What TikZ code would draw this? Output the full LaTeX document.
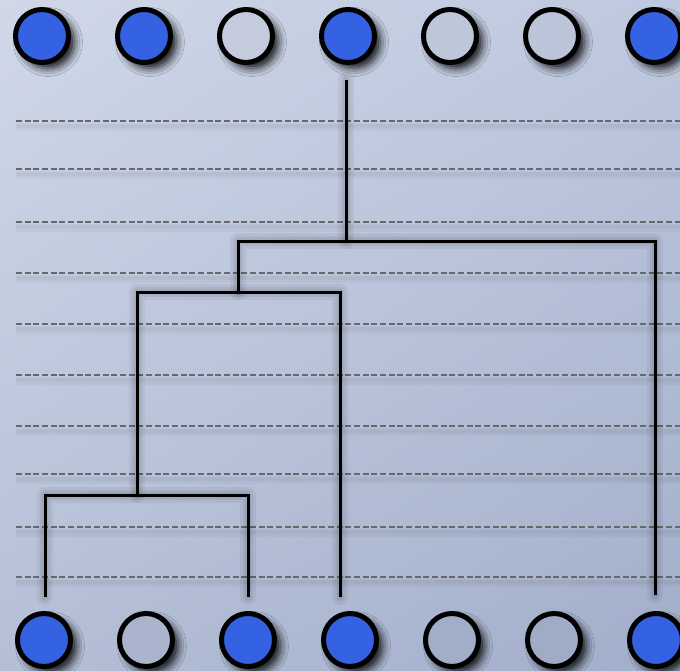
\documentclass[tikz,border=0pt]{standalone}
\usetikzlibrary{shadows.blur,shadings}
\definecolor{bgtl}{RGB}{208,216,232}
\definecolor{bgtr}{RGB}{190,200,222}
\definecolor{bgbl}{RGB}{180,191,214}
\definecolor{bgbr}{RGB}{162,174,202}
\definecolor{dotblue}{RGB}{53,98,226}
\definecolor{dashgray}{RGB}{104,104,108}
\tikzset{
  ball/.style={circle, draw=black, line width=3.75pt, minimum size=39.75pt, inner sep=0pt},
  shadowed/.style={blur shadow={shadow xshift=4.5pt, shadow yshift=-4.5pt, shadow blur radius=6pt, shadow opacity=90}},
  full/.style={ball, shadowed, fill=dotblue},
  hollow/.style={ball, fill=#1},
  hollowshadow/.style={circle, minimum size=39.75pt, inner sep=0pt, draw=none, shadowed, fill=none},
  level/.style={dashgray, line width=2.1pt, dash pattern=on 4.5pt off 2pt},
  levelshadow/.style={black, opacity=0.03, line width=6pt},
  tree/.style={black, line width=2.25pt},
  treeshadow/.style={black, opacity=0.05, line cap=round, line join=round},
}
\begin{document}
\begin{tikzpicture}[x=0.75pt,y=-0.75pt]
\useasboundingbox (0,0) rectangle (680,670);
\shade[upper left=bgtl, upper right=bgtr, lower left=bgbl, lower right=bgbr] (0,0) rectangle (680,670);

% level lines
\foreach \yy in {121,169,222,273,324,375,426,474,527,577} {
  \draw[levelshadow] (16,\yy+6) -- (680,\yy+6);
  \draw[levelshadow, line width=3pt] (16,\yy+5) -- (680,\yy+5);
}
\foreach \yy in {121,169,222,273,324,375,426,474,527,577} {
  \draw[level] (16,\yy) -- (680,\yy);
}

% tree coordinates
\coordinate (root) at (346,80);
\coordinate (rj) at (346,241);
\coordinate (ja) at (238,241);
\coordinate (jb) at (655,241);
\coordinate (la) at (655,595);
\coordinate (ka) at (238,292);
\coordinate (kl) at (137,292);
\coordinate (kr) at (340,292);
\coordinate (lb) at (340,597);
\coordinate (ma) at (137,495);
\coordinate (ml) at (45,495);
\coordinate (mr) at (248,495);
\coordinate (lc) at (45,597);
\coordinate (ld) at (248,597);

% tree shadows
\foreach \w in {12,8,5} {
  \begin{scope}[xshift=4.5pt, yshift=-4.5pt]
  \draw[treeshadow, line width=\w pt] (root) -- (rj);
  \draw[treeshadow, line width=\w pt] (la) -- (jb) -- (ja) -- (ka);
  \draw[treeshadow, line width=\w pt] (lb) -- (kr) -- (kl) -- (ma);
  \draw[treeshadow, line width=\w pt] (lc) -- (ml) -- (mr) -- (ld);
  \end{scope}
}

% tree
\draw[tree] (root) -- (rj);
\draw[tree] (la) -- (jb) -- (ja) -- (ka);
\draw[tree] (lb) -- (kr) -- (kl) -- (ma);
\draw[tree] (lc) -- (ml) -- (mr) -- (ld);

% shadows behind hollow balls
\foreach \px/\py in {246/36, 450/36, 552/36, 146/640, 452/640, 554/640}
  \node[hollowshadow] at (\px,\py) {};

% top balls
\node[full]   (t1) at (42,36) {};
\node[full]   (t2) at (144,36) {};
\node[hollow={bgtr!40!bgtl!97!black}] (t3) at (246,36) {};
\node[full]   (t4) at (348,36) {};
\node[hollow={bgtr!70!bgtl!97!black}] (t5) at (450,36) {};
\node[hollow={bgtr!85!bgtl!97!black}] (t6) at (552,36) {};
\node[full]   (t7) at (654,36) {};

% bottom balls
\node[full]   (b1) at (44,640) {};
\node[hollow={bgbr!25!bgbl!97!black}] (b2) at (146,640) {};
\node[full]   (b3) at (248,640) {};
\node[full]   (b4) at (350,640) {};
\node[hollow={bgbr!70!bgbl!97!black}] (b5) at (452,640) {};
\node[hollow={bgbr!85!bgbl!97!black}] (b6) at (554,640) {};
\node[full]   (b7) at (656,640) {};
\end{tikzpicture}
\end{document}
